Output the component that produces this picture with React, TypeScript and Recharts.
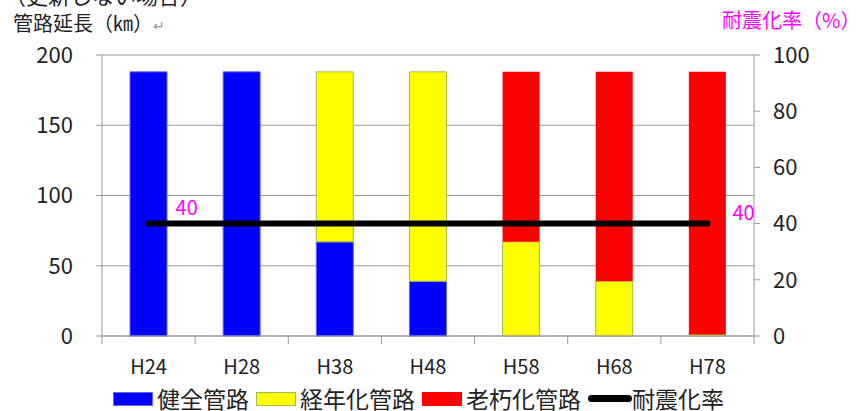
import React from "react";
import {
  ComposedChart, Bar, Line, XAxis, YAxis, CartesianGrid, LabelList,
} from "recharts";

const years = ["H24", "H28", "H38", "H48", "H58", "H68", "H78"];
const healthy = [188, 188, 67, 39, 0, 0, 0];
const aging = [0, 0, 121, 149, 67, 39, 1];
const old = [0, 0, 0, 0, 121, 149, 187];
const seismicRate = [40, 40, 40, 40, 40, 40, 40];
const leftTicks = [0, 50, 100, 150, 200];
const rightTicks = [0, 20, 40, 60, 80, 100];

const data = years.map((y, i) => ({
  year: y,
  healthy: healthy[i],
  aging: aging[i],
  old: old[i],
  rate: seismicRate[i],
}));

const FONT = "'Noto Sans CJK JP', sans-serif";
const AXIS = "#999";
const W = 861;
const H = 411;
const PLOT_L = 102;
const PLOT_R = 754;
const BAND = (PLOT_R - PLOT_L) / years.length;

function XTick(props: any) {
  const { x, y, payload, index } = props;
  const axisY = y - 8;
  return (
    <g>
      <line x1={x - BAND / 2} x2={x - BAND / 2} y1={axisY} y2={axisY + 8} stroke={AXIS} />
      {index === years.length - 1 && (
        <line x1={x + BAND / 2} x2={x + BAND / 2} y1={axisY} y2={axisY + 8} stroke={AXIS} />
      )}
      <text x={x} y={y + 30} textAnchor="middle" fontSize={20} fill="#222" fontFamily={FONT}>
        {payload.value}
      </text>
    </g>
  );
}

function RateLabel(props: any) {
  const { x, y, value, index } = props;
  if (index === 0) {
    return (
      <text x={x + 27} y={y - 9} fill="#FF00FF" fontSize={20} fontFamily={FONT}>
        {value}
      </text>
    );
  }
  if (index === years.length - 1) {
    return (
      <text x={x + 25} y={y - 4} fill="#FF00FF" fontSize={20} fontFamily={FONT}>
        {value}
      </text>
    );
  }
  return null;
}

const legendItems = [
  { label: "健全管路", color: "#0000FF", border: "#6666FF", kind: "rect" },
  { label: "経年化管路", color: "#FFFF00", border: "#9BBB59", kind: "rect" },
  { label: "老朽化管路", color: "#FF0000", border: "#FF0000", kind: "rect" },
  { label: "耐震化率", color: "#000", border: "#000", kind: "line" },
];

function LegendBox() {
  return (
    <div style={{ display: "flex", alignItems: "center", fontFamily: FONT, fontSize: 23, color: "#222", lineHeight: "23px", whiteSpace: "nowrap" }}>
      {legendItems.map((it) => (
        <div key={it.label} style={{ display: "flex", alignItems: "center", marginRight: 7 }}>
          {it.kind === "rect" ? (
            <span style={{ display: "inline-block", width: 38, height: 12, background: it.color, border: `1px solid ${it.border}`, marginRight: 4 }} />
          ) : (
            <span style={{ display: "inline-block", width: 44, height: 7, background: it.color, borderRadius: 4 }} />
          )}
          <span>{it.label}</span>
        </div>
      ))}
    </div>
  );
}

export default function App() {
  return (
    <div style={{ position: "fixed", left: 0, top: 0, width: W, height: H, background: "#fff", overflow: "hidden" }}>
      <div style={{ position: "absolute", left: 4, top: -22, fontFamily: FONT, fontSize: 22, color: "#222", whiteSpace: "nowrap" }}>
        （更新しない場合）
      </div>
      <div style={{ position: "absolute", left: 13, top: 8, fontFamily: FONT, fontSize: 20, color: "#222", whiteSpace: "nowrap" }}>
        管路延長（㎞）<span style={{ color: "#999", fontSize: 14 }}>↵</span>
      </div>
      <div style={{ position: "absolute", left: 722, top: 5, fontFamily: FONT, fontSize: 20, color: "#FF00FF", whiteSpace: "nowrap" }}>
        耐震化率（%）
      </div>
      <ComposedChart
        width={W}
        height={H}
        data={data}
        margin={{ top: 55, right: 0, bottom: 35, left: 0 }}
        barSize={37}
      >
        <CartesianGrid vertical={false} stroke={AXIS} yAxisId="left" />
        <XAxis
          dataKey="year"
          axisLine={{ stroke: AXIS }}
          tickLine={false}
          tick={<XTick />}
          height={40}
          interval={0}
        />
        <YAxis
          yAxisId="left"
          domain={[0, 200]}
          ticks={leftTicks}
          width={PLOT_L}
          axisLine={{ stroke: AXIS }}
          tickLine={{ stroke: AXIS }}
          tickSize={6}
          tickMargin={23}
          tick={{ fontSize: 22, fill: "#222", fontFamily: FONT }}
        />
        <YAxis
          yAxisId="right"
          orientation="right"
          domain={[0, 100]}
          ticks={rightTicks}
          width={W - PLOT_R}
          axisLine={{ stroke: AXIS }}
          tickLine={{ stroke: AXIS }}
          tickSize={6}
          tickMargin={13}
          tick={{ fontSize: 22, fill: "#222", fontFamily: FONT }}
        />
        <Bar yAxisId="left" dataKey="healthy" stackId="a" fill="#0000FF" stroke="#6666FF" strokeWidth={1} isAnimationActive={false} />
        <Bar yAxisId="left" dataKey="aging" stackId="a" fill="#FFFF00" stroke="#9BBB59" strokeWidth={1} isAnimationActive={false} />
        <Bar yAxisId="left" dataKey="old" stackId="a" fill="#FF0000" isAnimationActive={false} />
        <Line
          yAxisId="right"
          dataKey="rate"
          stroke="#000"
          strokeWidth={6}
          strokeLinecap="round"
          dot={false}
          activeDot={false}
          isAnimationActive={false}
        >
          <LabelList dataKey="rate" content={<RateLabel />} />
        </Line>
      </ComposedChart>
      <div style={{ position: "absolute", left: 113, top: 387 }}>
        <LegendBox />
      </div>
    </div>
  );
}
